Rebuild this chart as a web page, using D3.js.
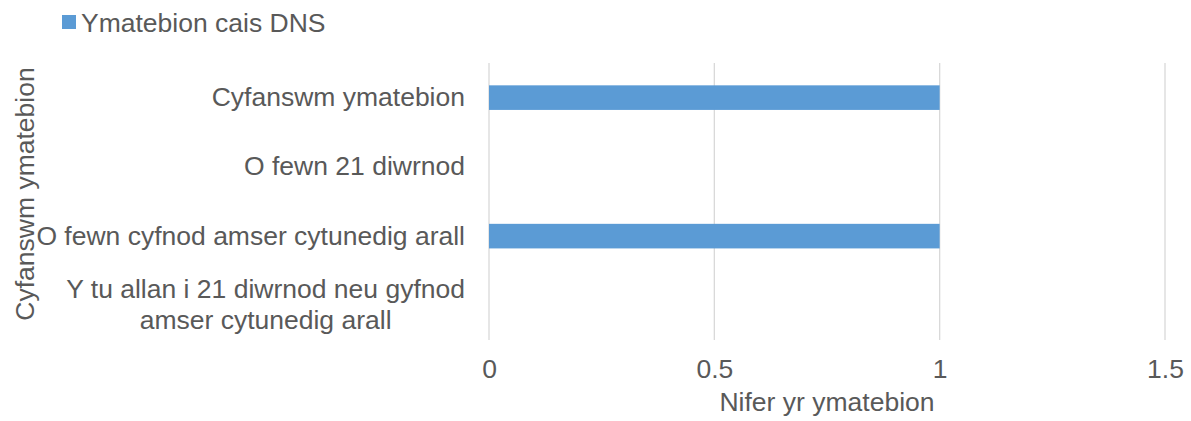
<!DOCTYPE html>
<html><head><meta charset="utf-8">
<script src="https://cdn.jsdelivr.net/npm/d3@7"></script>
<style>body{margin:0;background:#fff;}svg{display:block;font-family:"Liberation Sans",Arial,sans-serif;}</style>
</head><body>
<svg id="c" width="1191" height="421"></svg>
<script>
const categories = [
  ["Cyfanswm ymatebion"],
  ["O fewn 21 diwrnod"],
  ["O fewn cyfnod amser cytunedig arall"],
  ["Y tu allan i 21 diwrnod neu gyfnod", "amser cytunedig arall"]
];
const values = [1, 0, 1, 0];
const xTicks = [0, 0.5, 1, 1.5];
const seriesName = "Ymatebion cais DNS";
const xTitle = "Nifer yr ymatebion";
const yTitle = "Cyfanswm ymatebion";

const svg = d3.select("#c");
const textColor = "#595959";
const barColor = "#5B9BD5";
const fs = 26.5;
const m = {left: 489, right: 1165, top: 63, bottom: 340};

const x = d3.scaleLinear().domain([0, 1.5]).range([m.left, m.right]);
const y = d3.scaleBand().domain(d3.range(categories.length)).range([m.top, m.bottom]).paddingInner(0.645).paddingOuter(0.3225);

// gridlines
svg.append("g").selectAll("line").data(xTicks).join("line")
  .attr("x1", d => x(d)).attr("x2", d => x(d))
  .attr("y1", m.top).attr("y2", m.bottom)
  .attr("stroke", "#d9d9d9").attr("stroke-width", 1.3);

// bars
svg.append("g").selectAll("rect").data(values).join("rect")
  .attr("x", x(0)).attr("y", (d, i) => y(i))
  .attr("width", d => x(d) - x(0)).attr("height", y.bandwidth())
  .attr("fill", barColor);

// x tick labels
const xAxis = d3.axisBottom(x).tickValues(xTicks).tickSize(0).tickPadding(0).tickFormat(d3.format("~g"));
const gx = svg.append("g").attr("transform", `translate(0,${m.bottom})`).call(xAxis);
gx.select(".domain").remove();
gx.selectAll("text").attr("fill", textColor).attr("font-size", fs)
  .attr("font-family", "Liberation Sans, Arial, sans-serif").attr("dy", null).attr("y", 38);

// category labels
const catG = svg.append("g");
categories.forEach((lines, i) => {
  const cy = y(i) + y.bandwidth() / 2;
  const t = catG.append("text").attr("fill", textColor).attr("font-size", fs).attr("text-anchor", "middle");
  const lh = 31;
  const n = lines.length;
  lines.forEach((l, j) => {
    t.append("tspan").attr("y", cy + (j - (n - 1) / 2) * lh - 1).attr("dy", "0.36em").text(l);
  });
  let maxW = 0;
  t.selectAll("tspan").each(function() { maxW = Math.max(maxW, this.getComputedTextLength()); });
  t.selectAll("tspan").attr("x", 465 - maxW / 2);
});

// axis titles
svg.append("text").attr("x", (m.left + m.right) / 2).attr("y", 411)
  .attr("text-anchor", "middle").attr("fill", textColor).attr("font-size", fs).text(xTitle);
svg.append("text").attr("transform", `translate(34,194) rotate(-90)`)
  .attr("text-anchor", "middle").attr("fill", textColor).attr("font-size", fs).text(yTitle);

// legend
svg.append("rect").attr("x", 62).attr("y", 15).attr("width", 14).attr("height", 14).attr("fill", barColor);
svg.append("text").attr("x", 81).attr("y", 32).attr("fill", textColor).attr("font-size", fs).text(seriesName);
</script>
</body></html>
